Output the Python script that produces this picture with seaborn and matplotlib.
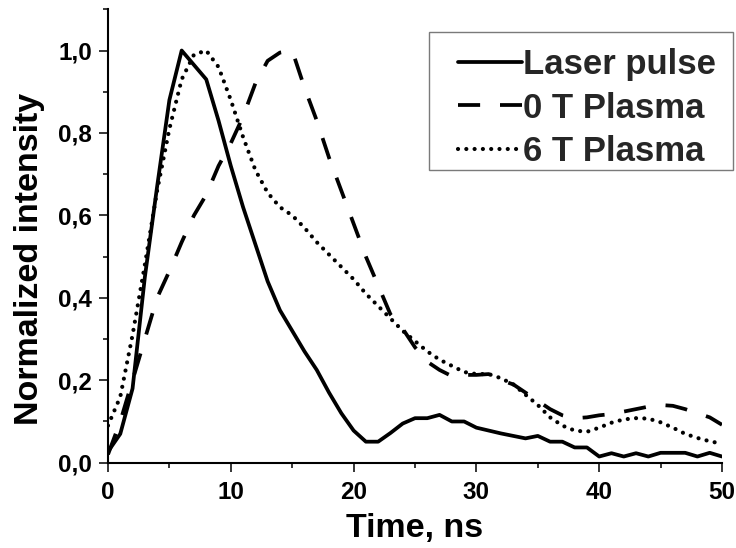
import numpy as np
import pandas as pd
import matplotlib
matplotlib.use("Agg")
import matplotlib.pyplot as plt
from matplotlib.lines import Line2D
from matplotlib.legend_handler import HandlerLine2D
from matplotlib.ticker import MultipleLocator, FuncFormatter
import seaborn as sns

# Sampling grid, ns
time_ns = list(range(0, 51))

# Normalized intensity of each signal
laser_pulse = [0.027, 0.07, 0.18, 0.45, 0.67, 0.88, 1.0, 0.965, 0.93, 0.83,
               0.72, 0.62, 0.53, 0.44, 0.37, 0.32, 0.27, 0.225, 0.17, 0.12,
               0.078, 0.051, 0.051, 0.072, 0.095, 0.108, 0.108, 0.116, 0.1, 0.1,
               0.085, 0.078, 0.071, 0.065, 0.059, 0.065, 0.051, 0.051, 0.037, 0.037,
               0.015, 0.023, 0.015, 0.023, 0.015, 0.024, 0.024, 0.024, 0.015, 0.024,
               0.015]
plasma_0T = [0.02, 0.1, 0.2, 0.3, 0.4, 0.465, 0.535, 0.6, 0.65, 0.72,
             0.775, 0.84, 0.92, 0.975, 0.995, 1.0, 0.91, 0.83, 0.74, 0.66,
             0.58, 0.5, 0.43, 0.36, 0.325, 0.28, 0.245, 0.225, 0.21, 0.213,
             0.213, 0.215, 0.2, 0.19, 0.17, 0.15, 0.13, 0.115, 0.108, 0.11,
             0.115, 0.118, 0.124, 0.13, 0.136, 0.14, 0.138, 0.13, 0.12, 0.11,
             0.092]
plasma_6T = [0.09, 0.16, 0.31, 0.48, 0.66, 0.81, 0.93, 0.99, 1.0, 0.96,
             0.88, 0.79, 0.71, 0.655, 0.62, 0.6, 0.57, 0.535, 0.505, 0.475,
             0.445, 0.41, 0.38, 0.35, 0.32, 0.295, 0.27, 0.25, 0.235, 0.22,
             0.215, 0.215, 0.205, 0.19, 0.165, 0.14, 0.11, 0.09, 0.078, 0.075,
             0.085, 0.097, 0.105, 0.108, 0.107, 0.098, 0.085, 0.07, 0.06, 0.052,
             0.046]

series_names = ["Laser pulse", "0 T Plasma", "6 T Plasma"]

df = pd.DataFrame({
    "time": time_ns,
    series_names[0]: laser_pulse,
    series_names[1]: plasma_0T,
    series_names[2]: plasma_6T,
})

sns.set_theme(style="ticks")
plt.rcParams["font.family"] = ["Liberation Sans", "DejaVu Sans"]
plt.rcParams["font.weight"] = "bold"
plt.rcParams["axes.labelweight"] = "bold"

fig = plt.figure(figsize=(7.36, 5.48), dpi=100)
ax = fig.add_axes([108 / 736, 1 - 462.7 / 548, (722 - 108) / 736, (462.7 - 9.3) / 548])

styles = {
    "Laser pulse": dict(lw=2.7, linestyle="-"),
    "0 T Plasma": dict(lw=2.7, linestyle=(0, (5.9, 5.3))),
    "6 T Plasma": dict(lw=3.0, linestyle=(0, (0.01, 1.98)), dash_capstyle="round"),
}
for name in series_names:
    sns.lineplot(data=df, x="time", y=name, ax=ax, color="black",
                 label=name, estimator=None, sort=False, legend=False,
                 **styles[name])

ax.set_xlim(0, 50)
ax.set_ylim(0, 1.1)
ax.xaxis.set_major_locator(MultipleLocator(10))
ax.xaxis.set_minor_locator(MultipleLocator(5))
ax.yaxis.set_major_locator(MultipleLocator(0.2))
ax.yaxis.set_minor_locator(MultipleLocator(0.1))
ax.yaxis.set_major_formatter(FuncFormatter(lambda v, p: f"{v:.1f}".replace(".", ",")))

for side in ("top", "right"):
    ax.spines[side].set_visible(False)
for side in ("left", "bottom"):
    ax.spines[side].set_linewidth(1.5)
    ax.spines[side].set_color("black")

ax.tick_params(axis="both", which="major", direction="out", length=6.5, width=1.1,
               color="black", labelsize=17.5, labelcolor="black")
ax.tick_params(axis="both", which="minor", direction="out", length=3.8, width=1.1,
               color="black")
ax.tick_params(axis="x", which="major", pad=7)
ax.tick_params(axis="y", which="major", pad=4.8)
for lab in ax.get_xticklabels() + ax.get_yticklabels():
    lab.set_fontweight("bold")

ax.set_xlabel("Time, ns", fontsize=24.5, fontweight="bold", labelpad=6.5, color="black")
ax.set_ylabel("Normalized intensity", fontsize=24.5, fontweight="bold", color="black")
ax.yaxis.set_label_coords(-0.1026, 0.45)

# Legend box spans a fixed region (expand mode); a blank, tiny title row
# gives a little extra room above the entries
leg = ax.legend(loc="upper left",
                bbox_to_anchor=(429 / 736, 1 - 169 / 548, 304 / 736, 137 / 548),
                bbox_transform=fig.transFigure, borderaxespad=0, mode="expand",
                prop={"family": "Liberation Sans", "weight": "bold", "size": 25},
                title=" ", title_fontsize=2.6,
                handlelength=2.63, handletextpad=0.02, borderpad=0.05,
                labelspacing=0.3, fancybox=False, framealpha=1,
                edgecolor="#7a7a7a",
                handler_map={Line2D: HandlerLine2D(xpad=0.787)})
leg.get_frame().set_linewidth(1.0)

fig.savefig("out.png", dpi=100)
